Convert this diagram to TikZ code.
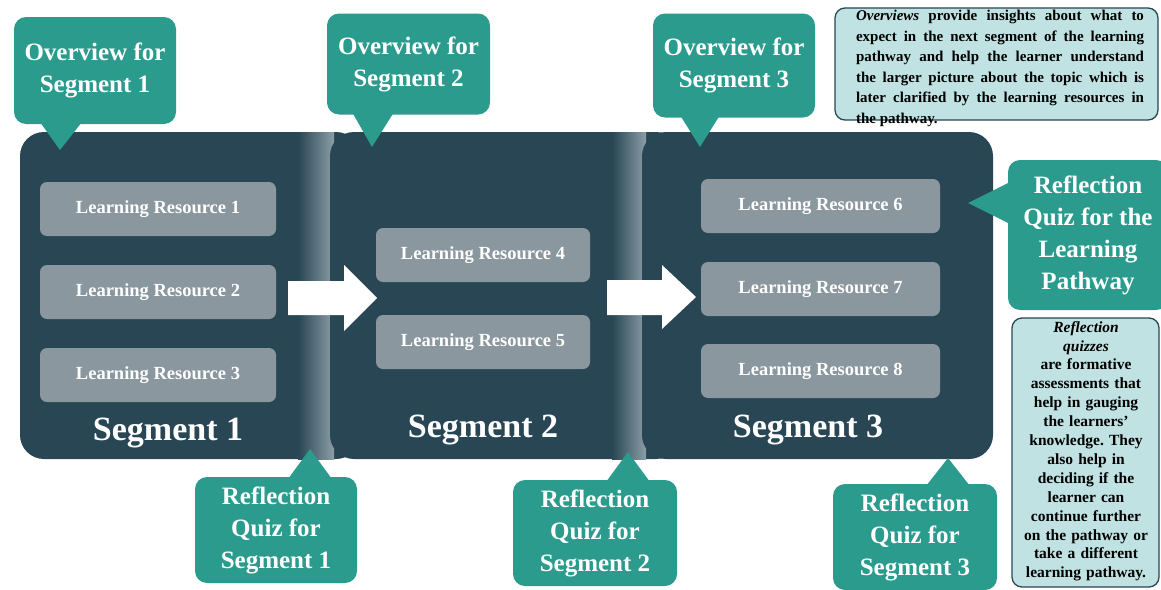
\documentclass[tikz,border=0pt]{standalone}
\usepackage{fontspec}
\setmainfont{Liberation Serif}
\usetikzlibrary{calc}
\frenchspacing
\definecolor{segc}{RGB}{40,70,84}
\definecolor{tealc}{RGB}{42,155,140}
\definecolor{lrc}{RGB}{138,151,158}
\definecolor{notec}{RGB}{192,226,226}
\definecolor{glowc}{RGB}{140,158,166}
\begin{document}
\begin{tikzpicture}[x=1pt,y=-1pt,
  segbox/.style={fill=segc, rounded corners=24pt, inner sep=0pt},
  lrbox/.style={fill=lrc, rounded corners=7pt, text=white, font=\fontsize{18.5}{22}\bfseries\selectfont, minimum width=236pt, minimum height=54pt, inner sep=0pt},
  callout/.style={fill=tealc, rounded corners=12pt, text=white, font=\fontsize{25}{32}\bfseries\selectfont, align=center, inner sep=0pt},
  pointer/.style={fill=tealc},
  seglabel/.style={text=white, font=\fontsize{34}{40}\bfseries\selectfont, inner sep=0pt},
  notebox/.style={fill=notec, draw=segc, line width=1.3pt, rounded corners=10pt, inner sep=0pt},
  bigarrow/.style={fill=white}
]
\useasboundingbox (0,0) rectangle (1161,589);

% segments
\node[segbox, minimum width=340pt, minimum height=327pt] (s1) at (190,295.5) {};
\fill[left color=segc, right color=glowc] (298,132) rectangle (334,459);
\node[segbox, minimum width=350pt, minimum height=327pt] (s2) at (505,295.5) {};
\fill[left color=segc, right color=glowc] (612,132) rectangle (646,459);
\node[segbox, minimum width=351pt, minimum height=327pt] (s3) at (817.5,295.5) {};

% learning resources
\node[lrbox] (lr1) at (158,209) {Learning Resource 1};
\node[lrbox] (lr2) at (158,292) {Learning Resource 2};
\node[lrbox] (lr3) at (158,375) {Learning Resource 3};
\node[lrbox, minimum width=214pt] (lr4) at (483,255) {Learning Resource 4};
\node[lrbox, minimum width=214pt] (lr5) at (483,342) {Learning Resource 5};
\node[lrbox, minimum width=239pt] (lr6) at (820.5,206) {Learning Resource 6};
\node[lrbox, minimum width=239pt] (lr7) at (820.5,289) {Learning Resource 7};
\node[lrbox, minimum width=239pt] (lr8) at (820.5,371) {Learning Resource 8};

% segment labels
\node[seglabel] (sl1) at (168,433) {Segment 1};
\node[seglabel] (sl2) at (483,430) {Segment 2};
\node[seglabel] (sl3) at (808,430) {Segment 3};

% block arrows
\fill[bigarrow] (288,281) -- (344,281) -- (344,265) -- (377,298) -- (344,331) -- (344,315) -- (288,315) -- cycle;
\fill[bigarrow] (607,280) -- (662,280) -- (662,265) -- (696,297) -- (662,329) -- (662,315) -- (607,315) -- cycle;

% overview callouts
\node[callout, minimum width=162pt, minimum height=107pt] (ov1) at (95,70.5) {Overview for\\Segment 1};
\fill[pointer] (40,122) -- (60,150) -- (82,122) -- cycle;
\node[callout, minimum width=163pt, minimum height=101pt] (ov2) at (408.5,64) {Overview for\\Segment 2};
\fill[pointer] (352,112) -- (372,147) -- (394,112) -- cycle;
\node[callout, minimum width=162pt, minimum height=104pt] (ov3) at (734,65.5) {Overview for\\Segment 3};
\fill[pointer] (680,115) -- (700,147) -- (720,115) -- cycle;

% reflection callouts
\node[callout, minimum width=162pt, minimum height=106pt] (rq1) at (276,530) {Reflection\\Quiz for\\Segment 1};
\fill[pointer] (288,479) -- (310,449) -- (332,479) -- cycle;
\node[callout, minimum width=164pt, minimum height=106pt] (rq2) at (595,533) {Reflection\\Quiz for\\Segment 2};
\fill[pointer] (606,482) -- (628,452) -- (650,482) -- cycle;
\node[callout, minimum width=164pt, minimum height=106pt] (rq3) at (915,537) {Reflection\\Quiz for\\Segment 3};
\fill[pointer] (926,486) -- (948,458) -- (970,486) -- cycle;
\node[callout, minimum width=160pt, minimum height=150pt] (rqp) at (1088,235) {Reflection\\Quiz for the\\Learning\\Pathway};
\fill[pointer] (1010,182) -- (968,203) -- (1010,224) -- cycle;

% explanatory notes
\node[notebox, minimum width=323pt, minimum height=112pt] (n1) at (996.5,64) {};
\node[anchor=north, text width=288pt, align=justify, inner sep=0pt, font=\fontsize{15}{20.5}\bfseries\selectfont] (n1t) at (1000,10) {\textit{Overviews} provide insights about what to\linebreak expect in the next segment of the learning\linebreak pathway and help the learner understand\linebreak the larger picture about the topic which is\linebreak later clarified by the learning resources in\linebreak the pathway.};
\node[notebox, minimum width=147pt, minimum height=269pt] (n2) at (1085.5,452.5) {};
\node[anchor=north, text width=147pt, align=center, inner sep=0pt, font=\fontsize{15.5}{18.9}\bfseries\selectfont] (n2t) at (1086,321) {\textit{Reflection}\\\textit{quizzes}\\are formative\\assessments that\\help in gauging\\the learners'\\knowledge. They\\also help in\\deciding if the\\learner can\\continue further\\on the pathway or\\take a different\\learning pathway.};
\end{tikzpicture}
\end{document}
